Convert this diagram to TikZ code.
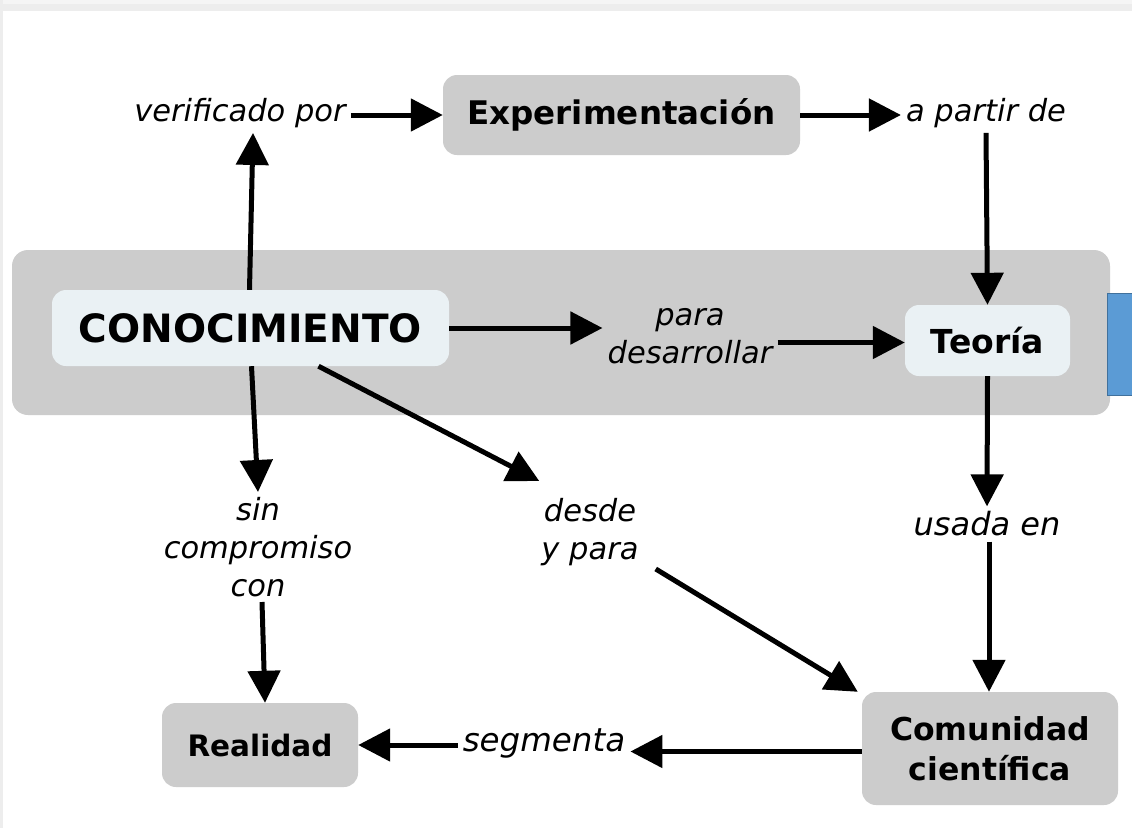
\documentclass[tikz,border=0pt]{standalone}
\usepackage{fontspec}
\setmainfont{DejaVu Sans}
\usetikzlibrary{arrows.meta}
\definecolor{bandgray}{HTML}{CCCCCC}
\definecolor{lightbox}{HTML}{EAF1F4}
\definecolor{blueface}{HTML}{5B9BD5}
\definecolor{blueedge}{HTML}{41719C}
\definecolor{framegray}{HTML}{EDEDED}
\begin{document}
\begin{tikzpicture}[x=1pt,y=-1pt,
  concept/.style={rounded corners=14pt, fill=bandgray, font=\fontsize{31}{36}\selectfont\bfseries, align=center, inner sep=0pt},
  lightconcept/.style={concept, fill=lightbox},
  linklabel/.style={font=\fontsize{30.5}{38}\selectfont\itshape, align=center, inner sep=5pt},
  conn/.style={line width=5pt, -{Triangle[length=32pt,width=32pt]}}
]
\useasboundingbox (0,0) rectangle (1132,828);
\fill[white] (0,0) rectangle (1132,828);
% frame strips
\fill[framegray] (0,0) rectangle (1132,11);
\fill[black!4] (0,0) rectangle (1132,4);
\fill[framegray] (0,0) rectangle (3,828);
% band
\fill[bandgray, rounded corners=16pt] (12,250) rectangle (1110,415);
% blue rectangle
\draw[blueedge, fill=blueface, line width=1pt] (1107,293) rectangle (1145,395);

% nodes
\node[lightconcept, minimum width=397pt, minimum height=76pt, font=\fontsize{39}{42}\selectfont\bfseries] (cono) at (250.5,328) {CONOCIMIENTO};
\node[lightconcept, minimum width=165pt, minimum height=71pt, font=\fontsize{33}{36}\selectfont\bfseries] (teoria) at (987.5,340.5) {Teoría};
\node[concept, minimum width=357pt, minimum height=80pt, font=\fontsize{32.5}{36}\selectfont\bfseries] (exper) at (621.5,115) {Experimentación};
\node[concept, minimum width=256pt, minimum height=113pt, font=\fontsize{31.5}{40}\selectfont\bfseries] (comun) at (990,748.5) {Comunidad\\científica};
\node[concept, minimum width=196pt, minimum height=84pt, font=\fontsize{29.5}{36}\selectfont\bfseries] (real) at (260,745) {Realidad};

% link labels
\node[linklabel] (verif) at (240,113) {verificado por};
\node[linklabel] (apartir) at (986,113) {a partir de};
\node[linklabel] (para) at (690,336) {para\\desarrollar};
\node[linklabel, font=\fontsize{32}{38}\selectfont\itshape] (usada) at (987,524) {usada en};
\node[linklabel] (sin) at (258,547) {sin\\compromiso\\con};
\node[linklabel] (desde) at (590,532) {desde\\y para};
\node[linklabel, font=\fontsize{32.5}{38}\selectfont\itshape] (segm) at (544,743) {segmenta};

% connectors
\draw[conn] ([xshift=-1pt]cono.north) -- ([xshift=13pt]verif.south);
\draw[conn] (verif.east |- exper.west) -- (exper.west);
\draw[conn] (exper.east) -- (exper.east -| apartir.west);
\draw[conn] (apartir.south) -- (teoria.north);
\draw[conn] (cono.east) -- (cono.east -| para.west);
\draw[conn] ([yshift=-2pt]para.east |- teoria.west) -- ([yshift=-2pt]teoria.west);
\draw[conn] (teoria.south) -- (usada.north);
\draw[conn] ([xshift=2pt]usada.south) -- ([xshift=-1pt]comun.north);
\draw[conn] ([xshift=68pt]cono.south) -- ([xshift=3pt,yshift=12pt]desde.north west);
\draw[conn] ([xshift=12pt,yshift=2pt]desde.south east) -- ([xshift=-4pt]comun.north west);
\draw[conn] ([xshift=1pt]cono.south) -- (sin.north);
\draw[conn] ([xshift=4pt]sin.south) -- ([xshift=5pt]real.north);
\draw[conn] ([yshift=-3pt]comun.west) -- ([yshift=-3pt]comun.west -| segm.east);
\draw[conn] (real.east -| segm.west) -- (real.east);
\end{tikzpicture}
\end{document}
